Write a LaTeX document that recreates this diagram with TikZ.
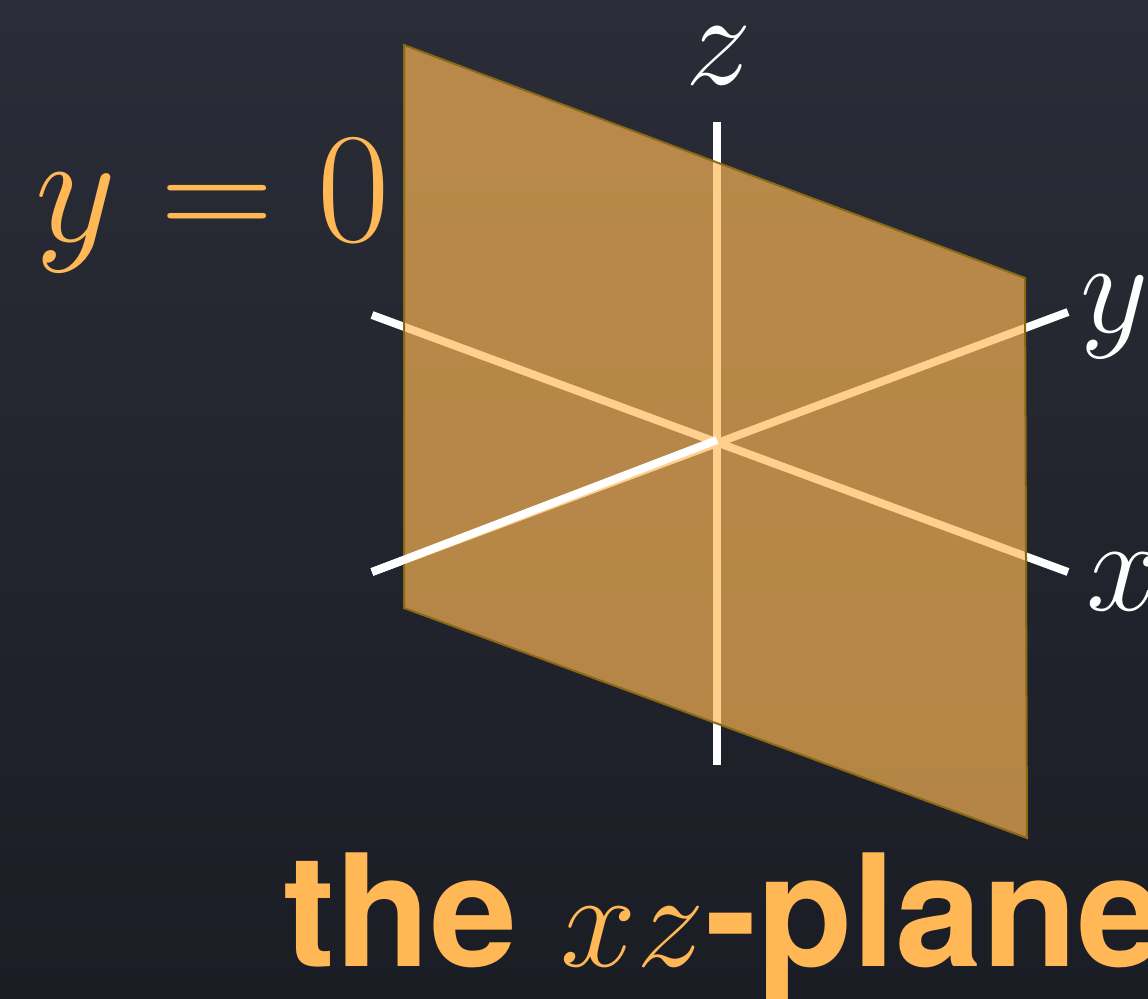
\documentclass[tikz,border=0pt]{standalone}
\usepackage{fontspec}
\newfontfamily\titlefont{TeX Gyre Heros}
\usetikzlibrary{calc}
\definecolor{boardtop}{RGB}{42,45,55}
\definecolor{boardbot}{RGB}{27,29,37}
\definecolor{chalkorange}{RGB}{255,184,85}
\definecolor{planeedge}{RGB}{138,104,20}
\newcommand{\chalkmath}[2]{\scalebox{#1}{\fontsize{20}{24}\selectfont$#2$}}
\tikzset{
  axisline/.style={white, line width=4pt},
  axislabel/.style={white, inner sep=0pt},
  planeface/.style={fill=chalkorange, fill opacity=0.67, draw=planeedge, line width=1pt}
}

\begin{document}
\begin{tikzpicture}[x=0.5pt, y=-0.5pt]
  \useasboundingbox (0,0) rectangle (1148,998);
  \shade[top color=boardtop, bottom color=boardbot] (0,0) rectangle (1148,998);
  % axes
  \coordinate (O) at (717,440);
  \coordinate (Ztop) at (717,122);
  \coordinate (Zbot) at (717,765);
  \coordinate (Xback) at (372,315);
  \coordinate (Xfront) at (1068,572);
  \coordinate (Yback) at (1068,312);
  \coordinate (Yfront) at (372,572);
  \draw[axisline] (Ztop) -- (Zbot);
  \draw[axisline] (Xback) -- (Xfront);
  \draw[axisline] (Yfront) -- (Yback);
  % the plane y=0
  \coordinate (P1) at (404,45);
  \coordinate (P2) at (1025,278);
  \coordinate (P3) at (1027,838);
  \coordinate (P4) at (404,608);
  \draw[planeface] (P1) -- (P2) -- (P3) -- (P4) -- cycle;
  \draw[axisline] (O) -- (Yfront);
  % labels
  \node[axislabel, anchor=base] (zlab) at (719,84) {\chalkmath{3.2}{z}};
  \node[axislabel, anchor=base west] (ylab) at (1080,332) {\chalkmath{3.2}{y}};
  \node[axislabel, anchor=base west] (xlab) at (1086,610) {\chalkmath{3.2}{x}};
  \node[chalkorange, inner sep=0pt, anchor=base west] (eqlab) at (35,241) {\chalkmath{3.8}{y = 0}};
  \node[chalkorange, inner sep=0pt, anchor=base west, font=\fontsize{78}{78}\selectfont\titlefont\bfseries] (title) at (283,966) {the \chalkmath{3.3}{xz}-plane};
\end{tikzpicture}
\end{document}
